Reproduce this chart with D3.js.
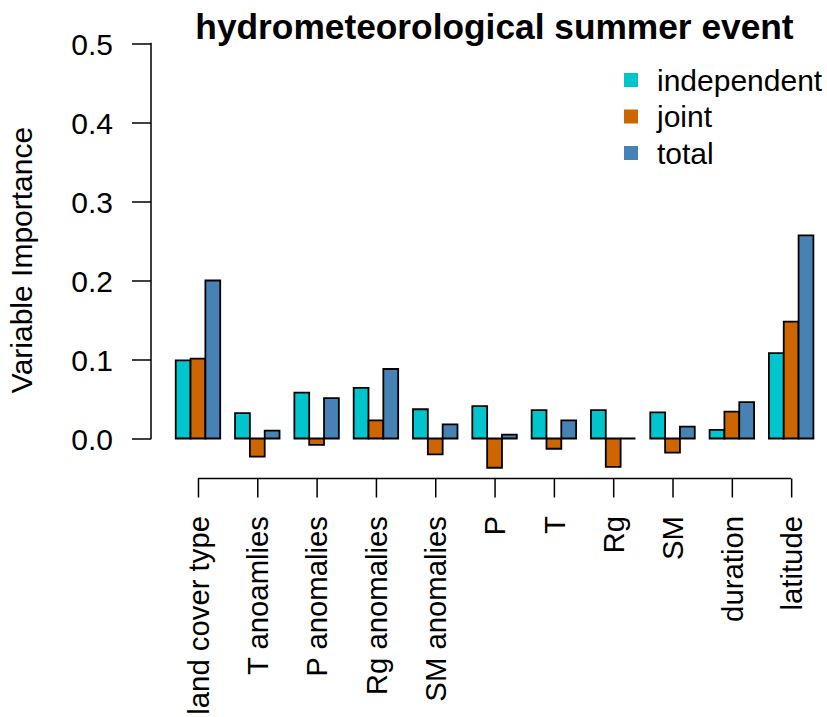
<!DOCTYPE html>
<html>
<head>
<meta charset="utf-8">
<script src="https://cdn.jsdelivr.net/npm/d3@7"></script>
<style>
  html, body { margin: 0; padding: 0; background: #fff; }
  svg { display: block; font-family: "Liberation Sans", Arial, Helvetica, sans-serif; }
</style>
</head>
<body>
<svg id="chart" width="827" height="717"></svg>
<script>
const categories = ["land cover type", "T anoamlies", "P anomalies", "Rg anomalies", "SM anomalies", "P", "T", "Rg", "SM", "duration", "latitude"];
const seriesNames = ["independent", "joint", "total"];
const independent = [0.099, 0.032, 0.058, 0.064, 0.037, 0.041, 0.036, 0.036, 0.033, 0.011, 0.108];
const joint = [0.101, -0.023, -0.008, 0.023, -0.020, -0.037, -0.013, -0.036, -0.018, 0.034, 0.148];
const total = [0.200, 0.010, 0.051, 0.088, 0.018, 0.005, 0.023, 0.000, 0.015, 0.046, 0.257];
const yTicks = [0.0, 0.1, 0.2, 0.3, 0.4, 0.5];
const colors = ["#00C5CD", "#CD6600", "#4682B4"];
const titleText = "hydrometeorological summer event";
const yLabel = "Variable Importance";

const series = [independent, joint, total];
const svg = d3.select("#chart");
const fontSize = 30;
const xLabelSize = 29.3;

// x in "bar units": each group = 3 bars + 1 space
const nUnits = categories.length * 4;
const x = d3.scaleLinear().domain([0, nUnits]).range([160.9, 813.4]);
const y = d3.scaleLinear().domain([0, 0.5]).range([438.5, 43.5]);

// bars
const bars = [];
categories.forEach((c, i) => {
  series.forEach((s, j) => {
    bars.push({ i, j, v: s[i] });
  });
});
svg.append("g").selectAll("path").data(bars).join("path")
  .attr("d", d => {
    const x0 = x(1 + 4 * d.i + d.j), x1 = x(2 + 4 * d.i + d.j);
    const y0 = y(0), y1 = y(d.v);
    return `M${x0},${y0}L${x1},${y0}L${x1},${y1}L${x0},${y1}Z`;
  })
  .attr("fill", d => colors[d.j])
  .attr("stroke", "#000")
  .attr("stroke-width", 1.8)
  .attr("stroke-linejoin", "miter");

// y axis
const yAxisX = 151;
const yAxis = d3.axisLeft(y).tickValues(yTicks).tickFormat(d3.format(".1f")).tickSize(19).tickPadding(19);
const gy = svg.append("g").attr("transform", `translate(${yAxisX},0)`).call(yAxis);
gy.select(".domain").attr("d", `M-0.5,${y(0)}H0V${y(0.5)}H-0.5`).attr("stroke", "#000").attr("stroke-width", 1.5);
gy.selectAll(".tick line").attr("stroke", "#000").attr("stroke-width", 1.5);
gy.selectAll(".tick text").attr("font-size", fontSize).attr("fill", "#000")
  .attr("font-family", "Liberation Sans, Arial, sans-serif").attr("dy", "0.35em");

// x axis with category ticks at group centers
const xAxisY = 478.5;
const centers = categories.map((c, i) => x(2.5 + 4 * i));
const xBand = d3.scaleOrdinal().domain(categories).range(centers);
const xAxis = d3.axisBottom(xBand).tickSize(19).tickSizeOuter(0);
const gx = svg.append("g").attr("transform", `translate(0,${xAxisY})`).call(xAxis);
gx.select(".domain").attr("d", `M${centers[0]},0H${centers[centers.length - 1]}`).attr("stroke", "#000").attr("stroke-width", 1.5);
gx.selectAll(".tick line").attr("stroke", "#000").attr("stroke-width", 1.5);
gx.selectAll(".tick text")
  .attr("font-size", xLabelSize).attr("fill", "#000")
  .attr("font-family", "Liberation Sans, Arial, sans-serif")
  .attr("transform", "rotate(-90)")
  .attr("text-anchor", "end")
  .attr("x", -37.5).attr("y", 0).attr("dy", "0.35em");

// y label
svg.append("text")
  .attr("transform", "translate(32,260) rotate(-90)")
  .attr("text-anchor", "middle")
  .attr("font-size", fontSize)
  .attr("fill", "#000")
  .text(yLabel);

// title
svg.append("text")
  .attr("x", 494.5).attr("y", 39)
  .attr("text-anchor", "middle")
  .attr("font-size", 35.3)
  .attr("font-weight", "bold")
  .attr("fill", "#000")
  .text(titleText);

// legend
const leg = svg.append("g");
seriesNames.forEach((n, j) => {
  const cy = 80 + j * 36.5;
  leg.append("rect").attr("x", 624).attr("y", cy - 7).attr("width", 14).attr("height", 14).attr("fill", colors[j]);
  leg.append("text").attr("x", 657).attr("y", cy).attr("dy", "0.35em")
    .attr("font-size", fontSize).attr("fill", "#000").text(n);
});
</script>
</body>
</html>
